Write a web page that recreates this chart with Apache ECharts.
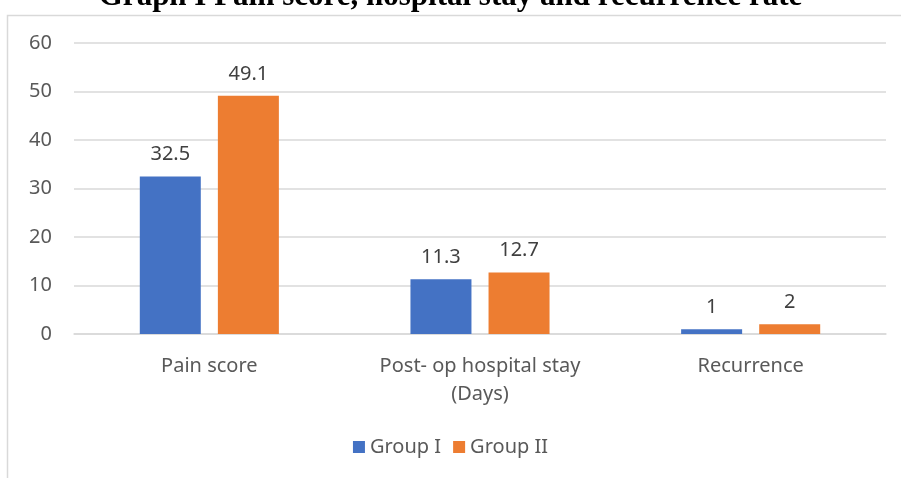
<!DOCTYPE html>
<html>
<head>
<meta charset="utf-8">
<script src="https://cdn.jsdelivr.net/npm/echarts@6/dist/echarts.min.js"></script>
<style>
  html, body { margin: 0; padding: 0; background: #fff; }
</style>
</head>
<body>
<div id="main" style="width: 901px;height:478px;"></div>
<script>
const categories = ['Pain score', 'Post- op hospital stay\n(Days)', 'Recurrence'];
const groupI = [32.5, 11.3, 1];
const groupII = [49.1, 12.7, 2];
const yTicks = { min: 0, max: 60, interval: 10 };

var myChart = echarts.init(document.getElementById('main'));
const labelFont = 'Noto Sans, sans-serif';

let option = {
  animation: false,
  color: ['#4472c4', '#ed7d31'],
  title: {
    text: 'Graph I Pain score, hospital stay and recurrence rate',
    left: 'center',
    top: -24,
    textStyle: {
      fontFamily: 'Liberation Serif, serif',
      fontWeight: 'bold',
      fontSize: 31,
      color: '#000'
    }
  },
  graphic: [{
    type: 'rect',
    left: 5,
    top: 13,
    shape: { width: 910, height: 480 },
    style: { fill: 'none', stroke: '#d9d9d9', lineWidth: 1.5 },
    z: -1
  }],
  grid: {
    left: 74,
    right: 15,
    top: 43,
    height: 291,
    containLabel: false
  },
  legend: {
    data: ['Group I', 'Group II'],
    left: 'center',
    top: 432,
    itemWidth: 12,
    itemHeight: 12,
    itemGap: 12,
    icon: 'rect',
    textStyle: { fontFamily: labelFont, fontSize: 20, color: '#595959' }
  },
  xAxis: {
    type: 'category',
    data: categories,
    axisLine: { lineStyle: { color: '#d9d9d9', width: 1.5 } },
    axisTick: { show: false },
    axisLabel: {
      margin: 18,
      fontFamily: labelFont,
      fontSize: 20,
      color: '#595959',
      lineHeight: 28
    }
  },
  yAxis: {
    type: 'value',
    min: yTicks.min,
    max: yTicks.max,
    interval: yTicks.interval,
    axisLine: { show: false },
    axisTick: { show: false },
    axisLabel: {
      margin: 22,
      fontFamily: labelFont,
      fontSize: 20,
      color: '#595959'
    },
    splitLine: { lineStyle: { color: '#d9d9d9', width: 1.5 } }
  },
  series: [
    {
      name: 'Group I',
      type: 'bar',
      data: groupI,
      barWidth: 61,
      barGap: '28%',
      label: {
        show: true,
        position: 'top',
        distance: 12,
        fontFamily: labelFont,
        fontSize: 20,
        color: '#404040'
      }
    },
    {
      name: 'Group II',
      type: 'bar',
      data: groupII,
      barWidth: 61,
      label: {
        show: true,
        position: 'top',
        distance: 12,
        fontFamily: labelFont,
        fontSize: 20,
        color: '#404040'
      }
    }
  ]
};
myChart.setOption(option);
</script>
</body>
</html>
